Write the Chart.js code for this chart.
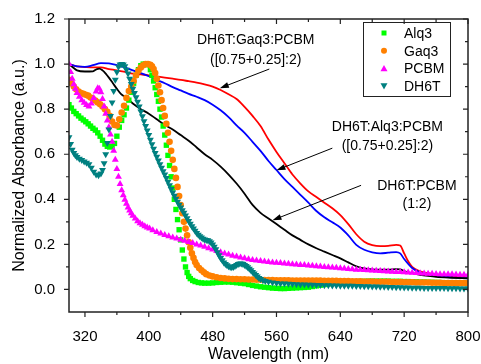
<!DOCTYPE html>
<html>
<head>
<meta charset="utf-8">
<script src="https://cdn.jsdelivr.net/npm/chart.js@4.4.0/dist/chart.umd.min.js"></script>
<style>
  html, body { margin: 0; padding: 0; background: #fff; }
</style>
</head>
<body>
<canvas id="myChart" width="481" height="364"></canvas>
<script>
// wavelength (nm) / normalized absorbance
const alq3X = [
  300,303,306,309,312,315,318,321,324,327,
  330,333,336,339,342,345,348,351,354,357,
  360,363,366,369,372,375,378,381,384,387,
  390,393,396,399,402,404,406,408,410,412,
  414,416,418,420,422,424,426,428,430,432,
  434,436,438,440,442,444,446,448,450,452,
  455,458,462,466,470,475,480,485,490,495,
  500,505,510,515,520,525,530,535,540,545,
  550,555,560,565,570,575,580,585,590,595,
  600,605,610,615,620,625,630,635,640,645,
  650,655,660,665,670,675,680,685,690,695,
  700,705,710,715,720,725,730,735,740,745,
  750,755,760,765,770,775,780,785,790,795,
  800];
const alq3Y = [
  0.82,0.805,0.79,0.78,0.77,0.76,0.752,0.744,0.735,0.725,
  0.715,0.707,0.695,0.68,0.662,0.645,0.635,0.632,0.635,0.648,
  0.68,0.72,0.75,0.775,0.805,0.84,0.875,0.915,0.95,0.975,
  0.993,1.0,1.0,0.997,0.975,0.95,0.925,0.895,0.865,0.835,
  0.8,0.765,0.725,0.685,0.64,0.595,0.55,0.5,0.45,0.4,
  0.355,0.31,0.265,0.22,0.175,0.135,0.1,0.075,0.058,0.048,
  0.04,0.035,0.031,0.029,0.028,0.028,0.029,0.031,0.032,0.033,
  0.033,0.032,0.03,0.028,0.026,0.022,0.018,0.015,0.012,0.01,
  0.008,0.006,0.005,0.004,0.004,0.005,0.006,0.007,0.008,0.009,
  0.01,0.013,0.016,0.019,0.022,0.025,0.028,0.03,0.032,0.033,
  0.034,0.035,0.035,0.036,0.036,0.037,0.037,0.037,0.037,0.037,
  0.037,0.036,0.036,0.036,0.035,0.035,0.034,0.034,0.033,0.033,
  0.032,0.032,0.031,0.031,0.03,0.03,0.029,0.029,0.028,0.028,
  0.027];

const gaq3X = [
  300,303,306,309,312,315,318,321,324,327,
  330,333,336,339,342,345,348,351,354,357,
  360,363,366,369,372,375,378,381,384,387,
  390,393,396,399,402,404,406,408,410,412,
  414,416,418,420,422,424,426,428,430,432,
  434,436,438,440,442,444,446,448,450,452,
  454,456,458,460,463,466,469,472,476,480,
  485,490,495,500,505,510,515,520,525,530,
  535,540,545,550,555,560,565,570,575,580,
  585,590,595,600,605,610,615,620,625,630,
  635,640,645,650,655,660,665,670,675,680,
  685,690,695,700,705,710,715,720,725,730,
  735,740,745,750,755,760,765,770,775,780,
  785,790,795,800];
const gaq3Y = [
  0.93,0.915,0.9,0.888,0.878,0.872,0.868,0.864,0.86,0.852,
  0.845,0.838,0.83,0.822,0.812,0.8,0.788,0.77,0.745,0.73,
  0.728,0.755,0.785,0.815,0.85,0.88,0.9,0.925,0.95,0.97,
  0.985,0.995,1.0,1.0,0.997,0.99,0.978,0.96,0.935,0.905,
  0.875,0.84,0.805,0.77,0.735,0.695,0.655,0.615,0.575,0.535,
  0.495,0.455,0.415,0.375,0.338,0.3,0.27,0.24,0.21,0.185,
  0.16,0.14,0.122,0.108,0.095,0.085,0.076,0.068,0.062,0.058,
  0.054,0.051,0.049,0.047,0.046,0.046,0.045,0.045,0.044,0.044,
  0.043,0.043,0.042,0.042,0.042,0.041,0.041,0.041,0.041,0.04,
  0.04,0.04,0.04,0.04,0.039,0.039,0.039,0.038,0.038,0.038,
  0.038,0.037,0.037,0.037,0.036,0.036,0.036,0.035,0.035,0.035,
  0.034,0.034,0.034,0.034,0.033,0.033,0.033,0.032,0.032,0.032,
  0.031,0.031,0.031,0.031,0.03,0.03,0.03,0.029,0.029,0.029,
  0.028,0.028,0.028,0.028];

const pcbmX = [
  300,302,304,306,308,310,313,316,319,322,
  325,328,331,334,336,338,340,342,344,346,
  348,350,352,354,356,358,360,362,364,366,
  368,370,372,374,376,378,380,383,386,389,
  392,395,398,401,405,410,415,420,425,430,
  435,440,445,450,455,460,465,470,475,480,
  485,490,495,500,505,510,515,520,525,530,
  535,540,545,550,555,560,565,570,575,580,
  585,590,595,600,605,610,615,620,625,630,
  635,640,645,650,655,660,665,670,675,680,
  685,690,695,700,705,710,715,720,725,730,
  735,740,745,750,755,760,765,770,775,780,
  785,790,795,800];
const pcbmY = [
  1.0,0.965,0.935,0.91,0.89,0.872,0.855,0.84,0.828,0.818,
  0.812,0.825,0.85,0.878,0.893,0.89,0.875,0.845,0.812,0.78,
  0.75,0.72,0.688,0.655,0.615,0.575,0.535,0.5,0.468,0.44,
  0.418,0.398,0.38,0.364,0.35,0.338,0.327,0.315,0.303,0.294,
  0.287,0.28,0.275,0.27,0.263,0.255,0.248,0.242,0.236,0.231,
  0.226,0.221,0.216,0.211,0.206,0.2,0.195,0.189,0.183,0.177,
  0.171,0.165,0.16,0.155,0.15,0.146,0.142,0.138,0.134,0.131,
  0.128,0.126,0.124,0.122,0.12,0.118,0.117,0.115,0.114,0.112,
  0.111,0.109,0.108,0.106,0.105,0.103,0.102,0.1,0.099,0.097,
  0.096,0.094,0.093,0.091,0.09,0.088,0.087,0.086,0.085,0.084,
  0.083,0.082,0.081,0.08,0.079,0.078,0.077,0.076,0.075,0.074,
  0.073,0.072,0.071,0.07,0.07,0.069,0.068,0.068,0.067,0.067,
  0.066,0.065,0.065,0.064];

const dh6tX = [
  300,302,304,306,308,310,313,316,319,322,
  325,328,331,334,337,340,342,344,346,348,
  350,352,354,356,358,360,362,364,366,368,
  370,372,374,376,378,380,382,384,386,388,
  390,392,394,396,398,400,402,404,406,408,
  410,412,414,416,418,420,422,424,426,428,
  430,432,434,436,438,440,442,444,446,448,
  450,452,454,456,458,460,462,464,466,468,
  470,472,474,476,478,480,482,484,486,488,
  490,492,494,496,498,500,502,504,506,508,
  510,512,514,516,518,520,522,524,526,528,
  530,532,534,536,538,540,543,546,550,555,
  560,565,570,575,580,585,590,595,600,605,
  610,615,620,625,630,635,640,645,650,655,
  660,665,670,675,680,685,690,695,700,705,
  710,715,720,725,730,735,740,745,750,755,
  760,765,770,775,780,785,790,795,800];
const dh6tY = [
  0.675,0.645,0.62,0.605,0.595,0.588,0.58,0.574,0.568,0.562,
  0.555,0.54,0.522,0.51,0.507,0.515,0.53,0.56,0.6,0.65,
  0.71,0.77,0.83,0.88,0.93,0.965,0.988,0.998,1.0,0.998,
  0.99,0.975,0.958,0.935,0.912,0.89,0.872,0.853,0.833,0.812,
  0.79,0.768,0.746,0.725,0.705,0.685,0.664,0.644,0.624,0.606,
  0.589,0.572,0.556,0.54,0.525,0.51,0.494,0.478,0.462,0.446,
  0.43,0.416,0.402,0.389,0.376,0.364,0.352,0.34,0.328,0.316,
  0.304,0.292,0.28,0.27,0.26,0.251,0.243,0.236,0.23,0.225,
  0.222,0.22,0.218,0.214,0.208,0.2,0.19,0.178,0.165,0.152,
  0.14,0.13,0.12,0.113,0.107,0.103,0.1,0.099,0.1,0.104,
  0.109,0.113,0.115,0.115,0.113,0.109,0.104,0.098,0.092,0.085,
  0.078,0.071,0.064,0.057,0.051,0.046,0.041,0.037,0.034,0.031,
  0.029,0.027,0.026,0.025,0.024,0.023,0.022,0.022,0.021,0.021,
  0.02,0.02,0.019,0.019,0.018,0.018,0.017,0.017,0.016,0.016,
  0.015,0.015,0.014,0.014,0.013,0.013,0.012,0.012,0.011,0.011,
  0.01,0.01,0.009,0.009,0.008,0.008,0.008,0.007,0.007,0.007,
  0.006,0.006,0.006,0.005,0.005,0.005,0.004,0.004,0.004];

// blends (solid lines)
const gaq3BlendX = [
  300,310,320,330,340,350,360,370,380,390,
  400,410,420,430,440,450,460,470,480,490,
  500,510,520,530,540,550,560,570,580,590,
  600,610,620,630,640,650,660,670,680,690,
  700,710,715,720,725,730,740,750,760,770,
  780,790,800];
const gaq3BlendY = [
  1.0,0.99,0.987,0.985,0.985,0.978,0.972,0.965,0.958,0.954,
  0.95,0.945,0.94,0.935,0.93,0.924,0.918,0.91,0.9,0.885,
  0.866,0.845,0.81,0.77,0.725,0.665,0.61,0.56,0.51,0.47,
  0.435,0.41,0.385,0.36,0.33,0.29,0.245,0.212,0.197,0.192,
  0.193,0.198,0.195,0.16,0.125,0.1,0.08,0.072,0.066,0.062,
  0.059,0.057,0.055];

const alq3BlendX = [
  300,310,320,330,340,350,360,370,380,390,
  400,410,420,430,440,450,460,470,480,490,
  500,510,520,530,540,550,560,570,580,590,
  600,610,620,630,640,650,660,670,680,690,
  700,710,715,720,730,740,750,760,780,800];
const alq3BlendY = [
  1.0,0.99,0.988,0.995,1.004,1.003,0.995,0.985,0.972,0.96,
  0.946,0.93,0.915,0.898,0.883,0.868,0.855,0.84,0.82,0.795,
  0.765,0.728,0.695,0.655,0.615,0.57,0.53,0.49,0.455,0.42,
  0.385,0.348,0.32,0.298,0.275,0.24,0.198,0.176,0.165,0.16,
  0.163,0.166,0.16,0.135,0.095,0.075,0.066,0.06,0.054,0.049];

const pcbmBlendX = [
  300,305,310,320,330,335,338,342,346,350,
  355,360,365,370,375,380,390,400,410,420,
  430,440,450,460,470,480,490,500,510,520,
  530,540,550,560,570,580,590,600,610,620,
  630,640,650,660,670,680,690,700,710,715,
  720,730,740,750,760,780,800];
const pcbmBlendY = [
  1.0,0.985,0.972,0.967,0.968,0.978,0.98,0.972,0.958,0.94,
  0.915,0.89,0.868,0.855,0.84,0.825,0.8,0.78,0.755,0.73,
  0.71,0.685,0.66,0.63,0.6,0.575,0.545,0.51,0.47,0.425,
  0.375,0.34,0.315,0.29,0.265,0.24,0.22,0.2,0.183,0.168,
  0.153,0.138,0.12,0.103,0.093,0.089,0.088,0.088,0.09,0.089,
  0.082,0.072,0.065,0.06,0.056,0.052,0.049];

const xTicks = [320,360,400,440,480,520,560,600,640,680,720,760,800];
const yTicks = [0,0.1,0.2,0.3,0.4,0.5,0.6,0.7,0.8,0.9,1.0,1.1,1.2];

const pts = (xs, ys) => xs.map((x, i) => ({x: x, y: ys[i]}));

Chart.defaults.font.family = '"Liberation Sans", Arial, sans-serif';
Chart.defaults.color = '#000';

// text notes with arrows, placed in data units
const notes = [
  {lines: ['DH6T:Gaq3:PCBM', '([0.75+0.25]:2)'], x: 534, ys: [1.107, 1.018], from: [551, 0.978], to: [489, 0.893]},
  {lines: ['DH6T:Alq3:PCBM', '([0.75+0.25]:2)'], x: 699, ys: [0.72, 0.636], from: [630, 0.627], to: [560, 0.529]},
  {lines: ['DH6T:PCBM', '(1:2)'], x: 736, ys: [0.458, 0.378], from: [666, 0.462], to: [555, 0.307]}
];

function marker(ctx, style, color, x, y, r) {
  ctx.fillStyle = color;
  ctx.beginPath();
  if (style === 'rect') {
    ctx.rect(x - r, y - r, 2 * r, 2 * r);
  } else if (style === 'circle') {
    ctx.arc(x, y, r, 0, Math.PI * 2);
  } else if (style === 'up') {
    ctx.moveTo(x, y - r); ctx.lineTo(x + r, y + r * 0.8); ctx.lineTo(x - r, y + r * 0.8);
  } else {
    ctx.moveTo(x, y + r); ctx.lineTo(x + r, y - r * 0.8); ctx.lineTo(x - r, y - r * 0.8);
  }
  ctx.closePath();
  ctx.fill();
}

const decor = {
  id: 'decor',
  afterDraw(chart) {
    const ctx = chart.ctx, a = chart.chartArea;
    const sx = chart.scales.x, sy = chart.scales.y;
    ctx.save();
    // frame
    ctx.strokeStyle = '#222';
    ctx.lineWidth = 1.5;
    ctx.strokeRect(a.left, a.top, a.right - a.left, a.bottom - a.top);
    // ticks: outward on bottom/left, inward on top/right
    ctx.lineWidth = 1.2;
    ctx.beginPath();
    xTicks.forEach(v => {
      const p = sx.getPixelForValue(v);
      const len = (v - 320) % 80 === 0 ? 5 : 3;
      ctx.moveTo(p, a.bottom); ctx.lineTo(p, a.bottom + len);
      ctx.moveTo(p, a.top); ctx.lineTo(p, a.top + len);
    });
    yTicks.forEach((v, i) => {
      const p = sy.getPixelForValue(v);
      const len = i % 2 === 0 ? 5 : 3;
      ctx.moveTo(a.left, p); ctx.lineTo(a.left - len, p);
      ctx.moveTo(a.right, p); ctx.lineTo(a.right - len, p);
    });
    ctx.stroke();

    // notes
    ctx.fillStyle = '#000';
    ctx.strokeStyle = '#000';
    ctx.font = '14px "Liberation Sans", Arial, sans-serif';
    ctx.textAlign = 'center';
    ctx.textBaseline = 'middle';
    notes.forEach(n => {
      n.lines.forEach((t, i) => ctx.fillText(t, sx.getPixelForValue(n.x), sy.getPixelForValue(n.ys[i])));
      const x1 = sx.getPixelForValue(n.from[0]), y1 = sy.getPixelForValue(n.from[1]);
      const x2 = sx.getPixelForValue(n.to[0]), y2 = sy.getPixelForValue(n.to[1]);
      const ang = Math.atan2(y2 - y1, x2 - x1);
      ctx.lineWidth = 1;
      ctx.beginPath(); ctx.moveTo(x1, y1); ctx.lineTo(x2 - 6 * Math.cos(ang), y2 - 6 * Math.sin(ang)); ctx.stroke();
      ctx.beginPath();
      ctx.moveTo(x2, y2);
      ctx.lineTo(x2 - 9 * Math.cos(ang) + 3 * Math.sin(ang), y2 - 9 * Math.sin(ang) - 3 * Math.cos(ang));
      ctx.lineTo(x2 - 9 * Math.cos(ang) - 3 * Math.sin(ang), y2 - 9 * Math.sin(ang) + 3 * Math.cos(ang));
      ctx.closePath(); ctx.fill();
    });

    // legend box
    const bx = a.right - 105, by = a.top + 3;
    ctx.lineWidth = 1;
    ctx.strokeStyle = '#222';
    ctx.strokeRect(bx + 0.5, by + 0.5, 87, 74);
    ctx.textAlign = 'left';
    const items = [
      ['Alq3', 'rect', '#00ff00', 2.5],
      ['Gaq3', 'circle', '#ff8000', 3],
      ['PCBM', 'up', '#ff00ff', 3.5],
      ['DH6T', 'down', '#008080', 3.5]
    ];
    items.forEach((it, i) => {
      const y = by + 11 + i * 17.7;
      marker(ctx, it[1], it[2], bx + 21, y, it[3]);
      ctx.fillStyle = '#000';
      ctx.fillText(it[0], bx + 41, y + 1);
    });
    ctx.restore();
  }
};

new Chart(document.getElementById('myChart'), {
  type: 'scatter',
  data: {
    datasets: [
      {label: 'Alq3', data: pts(alq3X, alq3Y), pointStyle: 'rect', pointRadius: 3.8,
       backgroundColor: '#00ff00', borderColor: '#00ff00', pointBorderWidth: 0, order: 4},
      {label: 'Gaq3', data: pts(gaq3X, gaq3Y), pointStyle: 'circle', pointRadius: 3.3,
       backgroundColor: '#ff8000', borderColor: '#ff8000', pointBorderWidth: 0, order: 3},
      {label: 'PCBM', data: pts(pcbmX, pcbmY), pointStyle: 'triangle', pointRadius: 4,
       backgroundColor: '#ff00ff', borderColor: '#ff00ff', pointBorderWidth: 0, order: 2},
      {label: 'DH6T', data: pts(dh6tX, dh6tY), pointStyle: 'triangle', pointRotation: 180, pointRadius: 4,
       backgroundColor: '#008080', borderColor: '#008080', pointBorderWidth: 0, order: 1},
      {label: 'DH6T:Gaq3:PCBM', data: pts(gaq3BlendX, gaq3BlendY), showLine: true, pointRadius: 0,
       borderColor: '#ff0000', borderWidth: 1.8, cubicInterpolationMode: 'monotone', order: 7},
      {label: 'DH6T:Alq3:PCBM', data: pts(alq3BlendX, alq3BlendY), showLine: true, pointRadius: 0,
       borderColor: '#0000ff', borderWidth: 1.8, cubicInterpolationMode: 'monotone', order: 6},
      {label: 'DH6T:PCBM', data: pts(pcbmBlendX, pcbmBlendY), showLine: true, pointRadius: 0,
       borderColor: '#000000', borderWidth: 1.8, cubicInterpolationMode: 'monotone', order: 5}
    ]
  },
  options: {
    responsive: false,
    animation: false,
    events: [],
    layout: {padding: {left: 10, top: 19, right: 13, bottom: 0}},
    plugins: {legend: {display: false}, tooltip: {enabled: false}},
    scales: {
      x: {
        type: 'linear', min: 300, max: 800,
        afterBuildTicks: s => { s.ticks = xTicks.map(v => ({value: v})); },
        afterFit: s => { s.height = 52; s.paddingLeft = 0; s.paddingRight = 0; },
        grid: {display: false},
        border: {display: false},
        ticks: {
          autoSkip: false, maxRotation: 0, padding: 8,
          font: {size: 15},
          callback: v => ((v - 320) % 80 === 0 ? String(v) : '')
        },
        title: {display: true, text: 'Wavelength (nm)', font: {size: 16}, padding: {top: 0, bottom: 0}}
      },
      y: {
        type: 'linear', min: -0.1, max: 1.2,
        afterBuildTicks: s => { s.ticks = yTicks.map(v => ({value: v})); },
        afterFit: s => { s.width = 59; s.paddingTop = 0; s.paddingBottom = 0; },
        grid: {display: false},
        border: {display: false},
        ticks: {
          autoSkip: false, padding: 6,
          font: {size: 15},
          callback: v => (Math.round(v * 10) % 2 === 0 ? v.toFixed(1) : '')
        },
        title: {display: true, text: 'Normalized Absorbance (a.u.)', font: {size: 16}, padding: {top: 0, bottom: 0}}
      }
    }
  },
  plugins: [decor]
});
</script>
</body>
</html>
